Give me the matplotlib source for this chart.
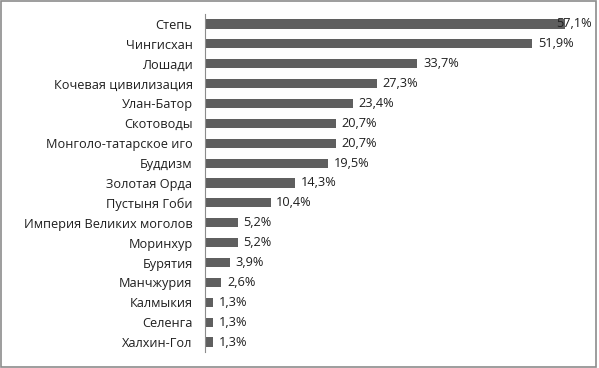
import matplotlib.pyplot as plt
from matplotlib.patches import Rectangle

# Data (top to bottom as in the picture)
categories = ["Степь", "Чингисхан", "Лошади", "Кочевая цивилизация", "Улан-Батор",
              "Скотоводы", "Монголо-татарское иго", "Буддизм", "Золотая Орда",
              "Пустыня Гоби", "Империя Великих моголов", "Моринхур", "Бурятия",
              "Манчжурия", "Калмыкия", "Селенга", "Халхин-Гол"]
values = [57.1, 51.9, 33.7, 27.3, 23.4, 20.7, 20.7, 19.5, 14.3, 10.4,
          5.2, 5.2, 3.9, 2.6, 1.3, 1.3, 1.3]

plt.rcParams['font.family'] = ['Open Sans', 'DejaVu Sans']

fig = plt.figure(figsize=(5.99, 3.68), dpi=100)
ax = fig.add_axes([205 / 599, 16 / 368, 360 / 599, 338 / 368])

pos = list(range(len(categories)))
ax.barh(pos, values, height=0.46, color='#5f5f5f')
ax.set_ylim(len(categories) - 0.5, -0.5)
ax.set_xlim(0, max(values))

ax.set_yticks(pos)
ax.set_yticklabels(categories, fontsize=9.2, color='#1f1f1f')
ax.tick_params(axis='y', length=0, pad=9)
ax.set_xticks([])

for s in ['top', 'right', 'bottom']:
    ax.spines[s].set_visible(False)
ax.spines['left'].set_color('#8c8c8c')
ax.spines['left'].set_linewidth(0.8)

# value labels, decimal comma; the largest one is pulled back inside like in Excel
for p, v in zip(pos, values):
    off = -6 if v == max(values) else 4
    ax.annotate(f"{v:.1f}%".replace('.', ','), xy=(v, p), xytext=(off, 0),
                textcoords='offset points', va='center', ha='left',
                fontsize=9.2, color='#1f1f1f', annotation_clip=False)

# grey frame around the chart
fig.patches.append(Rectangle((0.002, 0.003), 0.993, 0.994, transform=fig.transFigure,
                             fill=False, edgecolor='#8c8c8c', linewidth=1.2))

fig.savefig('out.png', dpi=100)
